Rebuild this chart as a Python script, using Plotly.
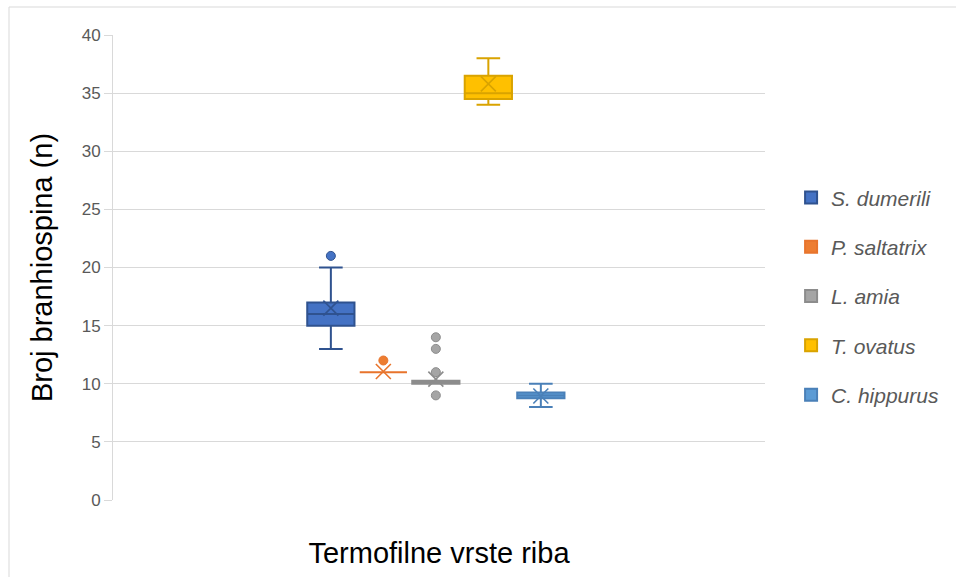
import plotly.graph_objects as go

species = ["S. dumerili", "P. saltatrix", "L. amia", "T. ovatus", "C. hippurus"]
q1 = [15, 11, 10, 34.5, 8.75]
median = [16, 11, 10, 35, 9]
q3 = [17, 11, 10.25, 36.5, 9.25]
lower_whisker = [13, 11, 10, 34, 8]
upper_whisker = [20, 11, 10.25, 38, 10]
means = [16.5, 11.05, 10.4, 35.8, 8.95]
outliers = [[21], [12], [14, 13, 11, 9], [], []]

fill_colors = ["#4472C4", "#ED7D31", "#A5A5A5", "#FFC000", "#5B9BD5"]
line_colors = ["#2F528F", "#E8742C", "#8C8C8C", "#D9A300", "#4A80B8"]

fig = go.Figure()
for i, sp in enumerate(species):
    fig.add_trace(go.Box(
        name=sp, x=[sp], q1=[q1[i]], median=[median[i]], q3=[q3[i]],
        lowerfence=[lower_whisker[i]], upperfence=[upper_whisker[i]],
        fillcolor=fill_colors[i], line=dict(color=line_colors[i], width=2),
        width=0.9, whiskerwidth=0.5, boxpoints=False,
        legendgroup=sp, hoverinfo="skip",
    ))
    fig.add_trace(go.Scatter(
        x=[sp], y=[means[i]], mode="markers", showlegend=False, legendgroup=sp,
        marker=dict(symbol="x-thin", size=15, line=dict(color=line_colors[i], width=1.6)),
        hoverinfo="skip",
    ))
    if outliers[i]:
        fig.add_trace(go.Scatter(
            x=[sp] * len(outliers[i]), y=outliers[i], mode="markers", showlegend=False,
            legendgroup=sp,
            marker=dict(symbol="circle", size=9, color=fill_colors[i],
                        line=dict(color=line_colors[i], width=1)),
            hoverinfo="skip",
        ))

fig.add_shape(type="rect", xref="paper", yref="paper",
              x0=-0.1595, x1=1.5, y0=-0.5, y1=1.0602,
              line=dict(color="#D9D9D9", width=1), fillcolor="rgba(0,0,0,0)", layer="below")

fig.update_layout(
    width=956, height=577,
    margin=dict(l=113, r=191, t=35, b=77),
    paper_bgcolor="white", plot_bgcolor="white",
    font=dict(family="Liberation Sans, Arial, sans-serif", color="#595959"),
    boxmode="overlay",
    showlegend=True,
    legend=dict(x=1.04, y=0.694, xanchor="left", yanchor="top",
                font=dict(size=21, color="#595959", style="italic"),
                traceorder="grouped", tracegroupgap=19, bgcolor="rgba(0,0,0,0)"),
    xaxis=dict(type="category", categoryorder="array", categoryarray=species,
               range=[-4.15, 8.27], showticklabels=False, showgrid=False,
               zeroline=False, showline=False, ticks="",
               title=dict(text="Termofilne vrste riba", standoff=42,
                          font=dict(size=29, color="black"))),
    yaxis=dict(range=[0, 40], dtick=5, tick0=0, showgrid=True, gridcolor="#D9D9D9",
               gridwidth=1, zeroline=False, showline=True, linecolor="#D9D9D9",
               ticks="outside", ticklen=8, tickcolor="#D9D9D9",
               tickfont=dict(size=17, color="#595959"),
               title=dict(text="Broj branhiospina (n)", standoff=20,
                          font=dict(size=29, color="black"))),
)

fig.write_html("out.html", config={"displayModeBar": False},
               post_script="document.body.style.margin='0';")
